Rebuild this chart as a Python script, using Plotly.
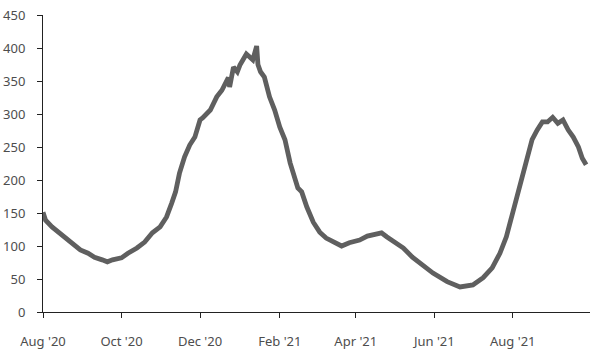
import plotly.graph_objects as go

dates = [
    "2020-08-01", "2020-08-03", "2020-08-08", "2020-08-13", "2020-08-18", "2020-08-24",
    "2020-08-30", "2020-09-05", "2020-09-10", "2020-09-16", "2020-09-20", "2020-09-24",
    "2020-10-01", "2020-10-06", "2020-10-13", "2020-10-19", "2020-10-25", "2020-10-31",
    "2020-11-05", "2020-11-09", "2020-11-12", "2020-11-15", "2020-11-19", "2020-11-23",
    "2020-11-27", "2020-12-01", "2020-12-03", "2020-12-09", "2020-12-14", "2020-12-18",
    "2020-12-23", "2020-12-24", "2020-12-27", "2020-12-30", "2021-01-01", "2021-01-06",
    "2021-01-11", "2021-01-14", "2021-01-15", "2021-01-17", "2021-01-20", "2021-01-24",
    "2021-01-28", "2021-02-01", "2021-02-05", "2021-02-09", "2021-02-13", "2021-02-15",
    "2021-02-18", "2021-02-22", "2021-02-27", "2021-03-04", "2021-03-09", "2021-03-16",
    "2021-03-21", "2021-03-27", "2021-04-04", "2021-04-10", "2021-04-16", "2021-04-21",
    "2021-04-25", "2021-05-01", "2021-05-08", "2021-05-15", "2021-05-21", "2021-05-31",
    "2021-06-11", "2021-06-21", "2021-07-01", "2021-07-09", "2021-07-16", "2021-07-22",
    "2021-07-27", "2021-08-01", "2021-08-06", "2021-08-12", "2021-08-16", "2021-08-20",
    "2021-08-24", "2021-08-28", "2021-09-01", "2021-09-05", "2021-09-09", "2021-09-13",
    "2021-09-17", "2021-09-21", "2021-09-24", "2021-09-27",
]
values = [
    151, 139, 129, 121, 114, 105,
    94, 89, 83, 79, 76, 79,
    82, 89, 97, 106, 120, 129,
    144, 165, 182, 210, 235, 253,
    265, 291, 294, 306, 326, 336,
    355, 341, 371, 364, 374, 391,
    382, 403, 375, 364, 356, 326,
    306, 280, 261, 226, 203, 188,
    182, 159, 136, 121, 112, 105,
    100, 105, 109, 115, 118, 120,
    114, 106, 97, 83, 74, 59,
    46, 38, 41, 52, 67, 89,
    114, 150, 185, 226, 261, 276,
    288, 288, 295, 286, 291, 276,
    265, 250, 233, 223,
]

tick_dates = ["2020-08-01", "2020-10-01", "2020-12-01", "2021-02-01",
              "2021-04-01", "2021-06-01", "2021-08-01"]
tick_labels = ["Aug '20", "Oct '20", "Dec '20", "Feb '21", "Apr '21", "Jun '21", "Aug '21"]
y_ticks = [0, 50, 100, 150, 200, 250, 300, 350, 400, 450]

fig = go.Figure()
fig.add_trace(go.Scatter(
    x=dates, y=values, mode="lines",
    line=dict(color="#5f5f5f", width=4.8),
    hoverinfo="skip",
))

fig.update_layout(
    width=600, height=357,
    autosize=False,
    margin=dict(l=43, r=10, t=15, b=45, pad=0),
    paper_bgcolor="white", plot_bgcolor="white",
    showlegend=False,
    font=dict(family="Noto Sans", size=13, color="#4d4d4d"),
)
fig.update_xaxes(
    type="date",
    range=["2020-08-01", "2021-09-30"],
    tickmode="array", tickvals=tick_dates, ticktext=tick_labels,
    showgrid=False, zeroline=False,
    showline=True, linecolor="#222", linewidth=1,
    ticks="outside", ticklen=5, tickcolor="#222", tickwidth=1,
    ticklabelstandoff=12, automargin=False,
    ticklabeloverflow="allow",
)
fig.update_yaxes(
    range=[0, 450],
    tickmode="array", tickvals=y_ticks,
    showgrid=False, zeroline=False,
    showline=True, linecolor="#222", linewidth=1,
    ticks="outside", ticklen=5, tickcolor="#222", tickwidth=1,
    ticklabelstandoff=9, automargin=False,
    ticklabeloverflow="allow",
)

fig.write_html(
    "out.html",
    config={"displayModeBar": False, "staticPlot": True},
    post_script="document.body.style.margin='0px';document.body.style.overflow='hidden';",
)
